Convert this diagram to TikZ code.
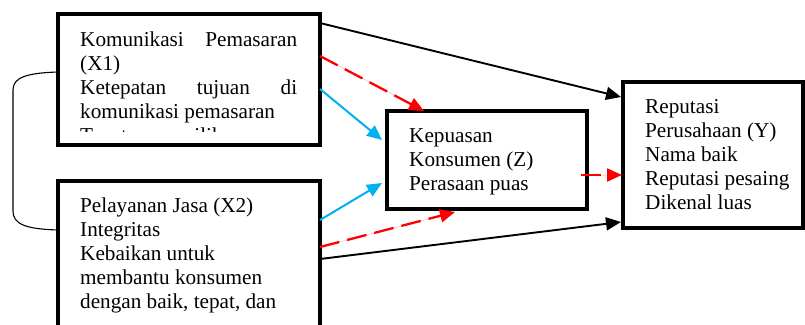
\documentclass[tikz,border=0pt]{standalone}
\usepackage{fontspec}
\setmainfont{Liberation Serif}
\usetikzlibrary{arrows.meta,calc}
\definecolor{myred}{RGB}{255,0,0}
\definecolor{myblue}{RGB}{0,176,240}
\begin{document}
\begin{tikzpicture}[x=1pt,y=-1pt,
  box/.style={draw=black, line width=3.6pt, outer sep=0pt, inner sep=0pt, anchor=north west},
  txt/.style={inner sep=0pt, anchor=base west, font=\fontsize{21.2}{24.2}\selectfont},
  tip/.style={-{Triangle[length=15pt,width=13pt]}},
  blk/.style={tip, draw=black, line width=1.9pt},
  blu/.style={tip, draw=myblue, fill=myblue, line width=2pt},
  rdd/.style={tip, draw=myred, fill=myred, line width=2.3pt, dash pattern=on 20pt off 8pt},
  brk/.style={draw=black, line width=1.1pt}]
\clip (0,0) rectangle (805,324);
\fill[white] (0,0) rectangle (805,324);
% boxes
\node[box, minimum width=262pt, minimum height=131pt] (X1) at (58,14) {};
\node[box, minimum width=262pt, minimum height=165pt] (X2) at (58,181) {};
\node[box, minimum width=200pt, minimum height=98pt] (Z) at (387,111) {};
\node[box, minimum width=180pt, minimum height=146pt] (Y) at (623,82) {};
% texts
\begin{scope}
\clip (60,16) rectangle (318,131);
\node[txt] (t1) at (80,46) {\parbox[t]{217pt}{%
\hbox to\linewidth{Komunikasi\hfill Pemasaran}
(X1)\par
\hbox to\linewidth{Ketepatan\hfill tujuan\hfill di}
komunikasi pemasaran\par
Tepat\hspace{25pt}memilih\par}};
\end{scope}
\node[txt] (t2) at (80,212) {\parbox[t]{230pt}{%
Pelayanan Jasa (X2)\par
Integritas\par
Kebaikan untuk\par
membantu konsumen\par
dengan baik, tepat, dan\par}};
\node[txt] (t3) at (409,142) {\parbox[t]{170pt}{%
Kepuasan\par
Konsumen (Z)\par
Perasaan puas\par}};
\node[txt] (t4) at (645,113) {\parbox[t]{160pt}{%
Reputasi\par
Perusahaan (Y)\par
Nama baik\par
Reputasi pesaing\par
Dikenal luas\par}};
% bracket
\draw[brk] ($(X1.north west)+(0,58)$) .. controls (25,73) and (13,78) .. (13,90)
  -- (13,211) .. controls (13,224) and (25,229) .. ($(X2.north west)+(0,49)$);
% arrows
\draw[blk] ($(X1.north east)+(0,9)$) -- ($(Y.north west)+(-2,15)$);
\draw[rdd] ($(X1.north east)+(0,42)$) -- ($(Z.north west)+(37,0)$);
\draw[blu] ($(X1.north east)+(0,75)$) -- ($(Z.north west)+(-5,29)$);
\draw[blu] ($(X2.north east)+(0,39)$) -- ($(Z.north west)+(-5,72)$);
\draw[rdd] ($(X2.north east)+(0,66)$) -- ($(Z.south west)+(68,3)$);
\draw[blk] ($(X2.north east)+(0,78)$) -- ($(Y.south west)+(-2,-6)$);
\draw[rdd] ($(Z.south east)+(-6,-34)$) -- ($(Y.south west)+(-1,-53)$);
\end{tikzpicture}
\end{document}
